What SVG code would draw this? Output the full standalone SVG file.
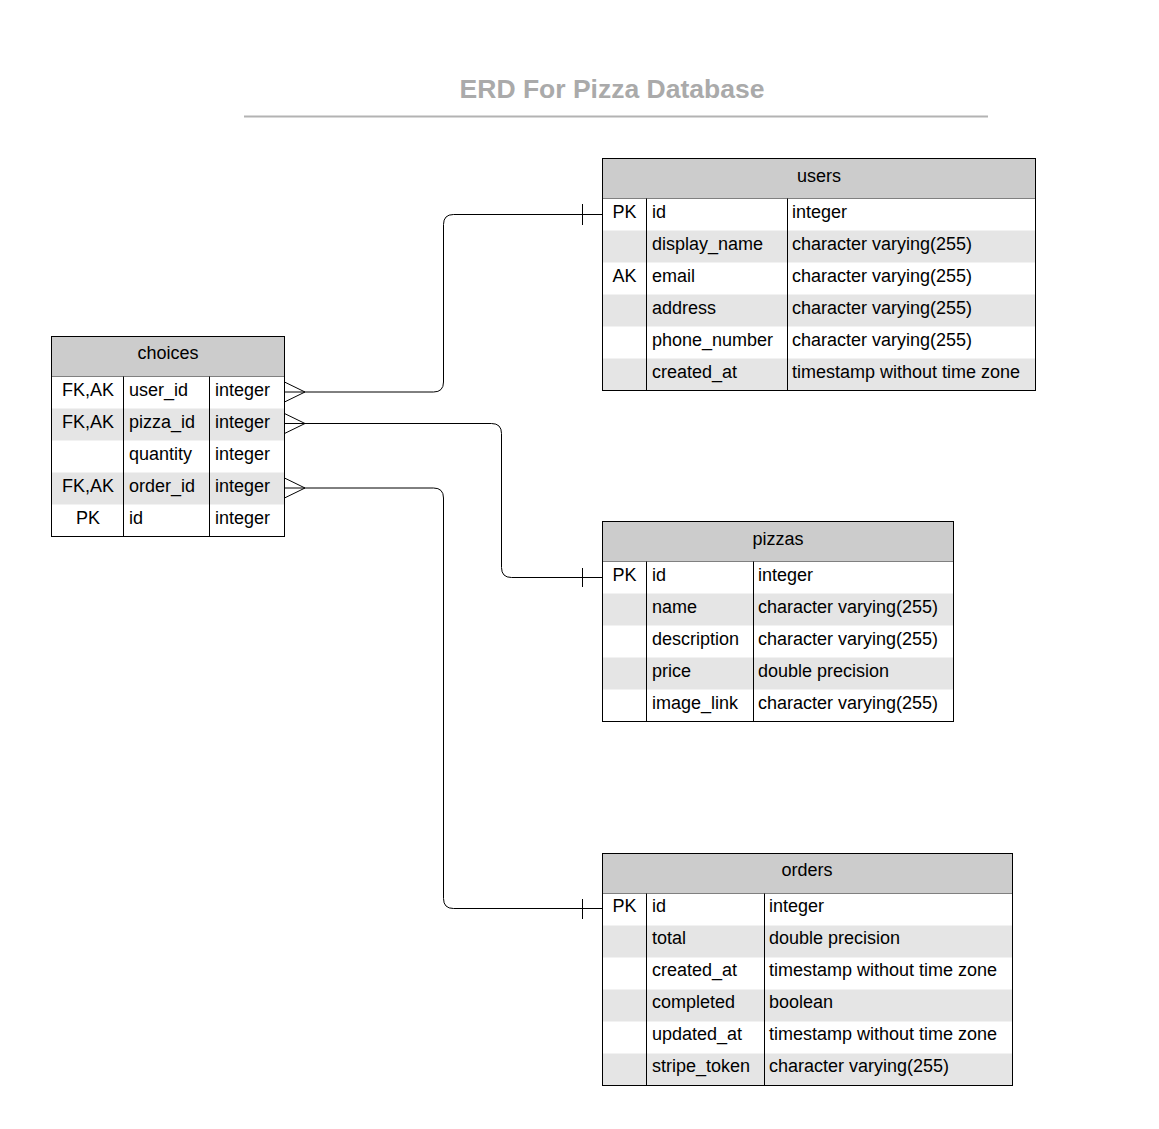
<svg xmlns="http://www.w3.org/2000/svg" width="1159" height="1129" viewBox="0 0 1159 1129">
<style>
  text { font-family: "Liberation Sans", Arial, sans-serif; font-size: 18px; fill: #000; }
  .title { font-size: 26.5px; font-weight: bold; fill: #aaaaaa; text-anchor: middle; }
  .hdr { fill: #cccccc; stroke: #000; stroke-width: 1; }
  .stripe { fill: #e5e5e5; stroke: none; }
  .frame { fill: none; stroke: #000; stroke-width: 1; }
  .div { stroke: #000; stroke-width: 1; fill: none; }
  .c { text-anchor: middle; }
  .conn path { fill: none; stroke: #000; stroke-width: 1; }
</style>
<rect x="0" y="0" width="1159" height="1129" fill="#ffffff"/>
<g id="title">
  <text class="title" x="612" y="97.5">ERD For Pizza Database</text>
  <line x1="244" y1="116.5" x2="988" y2="116.5" stroke="#b3b3b3" stroke-width="2"/>
</g>

<g id="users">
  <rect class="hdr" x="602.5" y="158.5" width="433" height="40"/>
  <rect fill="#fff" x="602.5" y="198.5" width="433" height="192"/>
  <rect class="stripe" x="602.5" y="230.5" width="433" height="32"/>
  <rect class="stripe" x="602.5" y="294.5" width="433" height="32"/>
  <rect class="stripe" x="602.5" y="358.5" width="433" height="32"/>
  <rect class="frame" x="602.5" y="158.5" width="433" height="232"/>
  <line class="div" x1="646.5" y1="198.5" x2="646.5" y2="390.5"/>
  <line class="div" x1="787.5" y1="198.5" x2="787.5" y2="390.5"/>
  <text class="c" x="819" y="182">users</text>
  <text class="c" x="624.5" y="218">PK</text><text x="652" y="218">id</text><text x="792" y="218">integer</text>
  <text x="652" y="250">display_name</text><text x="792" y="250">character varying(255)</text>
  <text class="c" x="624.5" y="282">AK</text><text x="652" y="282">email</text><text x="792" y="282">character varying(255)</text>
  <text x="652" y="314">address</text><text x="792" y="314">character varying(255)</text>
  <text x="652" y="346">phone_number</text><text x="792" y="346">character varying(255)</text>
  <text x="652" y="378">created_at</text><text x="792" y="378">timestamp without time zone</text>
</g>

<g id="choices">
  <rect class="hdr" x="51.5" y="336.5" width="233" height="40"/>
  <rect fill="#fff" x="51.5" y="376.5" width="233" height="160"/>
  <rect class="stripe" x="51.5" y="408.5" width="233" height="32"/>
  <rect class="stripe" x="51.5" y="472.5" width="233" height="32"/>
  <rect class="frame" x="51.5" y="336.5" width="233" height="200"/>
  <line class="div" x1="123.5" y1="376.5" x2="123.5" y2="536.5"/>
  <line class="div" x1="209.5" y1="376.5" x2="209.5" y2="536.5"/>
  <text class="c" x="168" y="359">choices</text>
  <text class="c" x="88" y="396">FK,AK</text><text x="129" y="396">user_id</text><text x="215" y="396">integer</text>
  <text class="c" x="88" y="428">FK,AK</text><text x="129" y="428">pizza_id</text><text x="215" y="428">integer</text>
  <text x="129" y="460">quantity</text><text x="215" y="460">integer</text>
  <text class="c" x="88" y="492">FK,AK</text><text x="129" y="492">order_id</text><text x="215" y="492">integer</text>
  <text class="c" x="88" y="524">PK</text><text x="129" y="524">id</text><text x="215" y="524">integer</text>
</g>

<g id="pizzas">
  <rect class="hdr" x="602.5" y="521.5" width="351" height="40"/>
  <rect fill="#fff" x="602.5" y="561.5" width="351" height="160"/>
  <rect class="stripe" x="602.5" y="593.5" width="351" height="32"/>
  <rect class="stripe" x="602.5" y="657.5" width="351" height="32"/>
  <rect class="frame" x="602.5" y="521.5" width="351" height="200"/>
  <line class="div" x1="646.5" y1="561.5" x2="646.5" y2="721.5"/>
  <line class="div" x1="753.5" y1="561.5" x2="753.5" y2="721.5"/>
  <text class="c" x="778" y="545">pizzas</text>
  <text class="c" x="624.5" y="581">PK</text><text x="652" y="581">id</text><text x="758" y="581">integer</text>
  <text x="652" y="613">name</text><text x="758" y="613">character varying(255)</text>
  <text x="652" y="645">description</text><text x="758" y="645">character varying(255)</text>
  <text x="652" y="677">price</text><text x="758" y="677">double precision</text>
  <text x="652" y="709">image_link</text><text x="758" y="709">character varying(255)</text>
</g>

<g id="orders">
  <rect class="hdr" x="602.5" y="853.5" width="410" height="40"/>
  <rect fill="#fff" x="602.5" y="893.5" width="410" height="192"/>
  <rect class="stripe" x="602.5" y="925.5" width="410" height="32"/>
  <rect class="stripe" x="602.5" y="989.5" width="410" height="32"/>
  <rect class="stripe" x="602.5" y="1053.5" width="410" height="32"/>
  <rect class="frame" x="602.5" y="853.5" width="410" height="232"/>
  <line class="div" x1="646.5" y1="893.5" x2="646.5" y2="1085.5"/>
  <line class="div" x1="764.5" y1="893.5" x2="764.5" y2="1085.5"/>
  <text class="c" x="807" y="876">orders</text>
  <text class="c" x="624.5" y="912">PK</text><text x="652" y="912">id</text><text x="769" y="912">integer</text>
  <text x="652" y="944">total</text><text x="769" y="944">double precision</text>
  <text x="652" y="976">created_at</text><text x="769" y="976">timestamp without time zone</text>
  <text x="652" y="1008">completed</text><text x="769" y="1008">boolean</text>
  <text x="652" y="1040">updated_at</text><text x="769" y="1040">timestamp without time zone</text>
  <text x="652" y="1072">stripe_token</text><text x="769" y="1072">character varying(255)</text>
</g>

<g id="connectors" class="conn">
  <path d="M284.5,392 H433.5 Q443.5,392 443.5,382 V224.5 Q443.5,214.5 453.5,214.5 H602.5"/>
  <path d="M284.5,382 L305,392 L284.5,402"/>
  <path d="M582.5,204 V225"/>

  <path d="M284.5,423.5 H491.5 Q501.5,423.5 501.5,433.5 V567.5 Q501.5,577.5 511.5,577.5 H602.5"/>
  <path d="M284.5,413.5 L305,423.5 L284.5,433.5"/>
  <path d="M582.5,568 V587"/>

  <path d="M284.5,488 H433.5 Q443.5,488 443.5,498 V898.5 Q443.5,908.5 453.5,908.5 H602.5"/>
  <path d="M284.5,478 L305,488 L284.5,498"/>
  <path d="M582.5,899 V919"/>
</g>
</svg>
